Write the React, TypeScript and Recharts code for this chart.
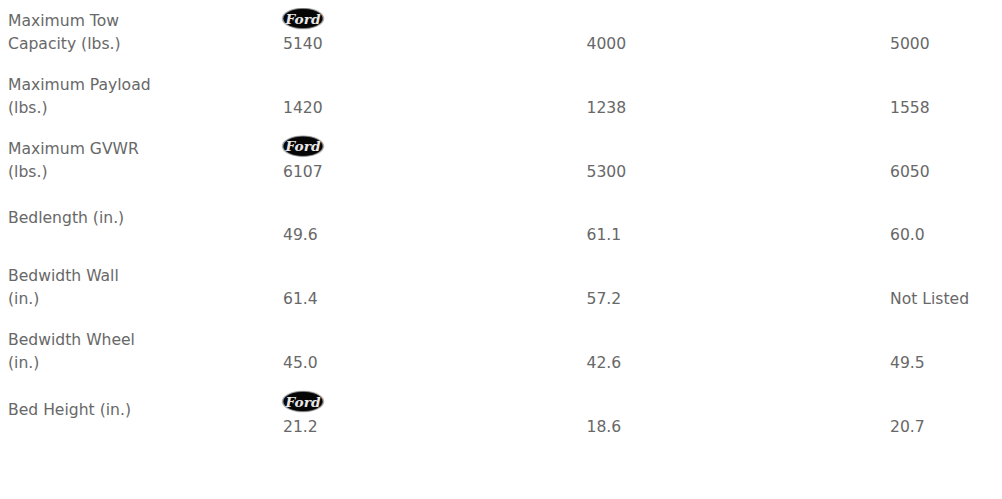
import React from 'react';
import { ScatterChart, Scatter, XAxis, YAxis } from 'recharts';

const rowLabels = [
    ['Maximum Tow', 'Capacity (lbs.)'],
    ['Maximum Payload', '(lbs.)'],
    ['Maximum GVWR', '(lbs.)'],
    ['Bedlength (in.)'],
    ['Bedwidth Wall', '(in.)'],
    ['Bedwidth Wheel', '(in.)'],
    ['Bed Height (in.)'],
];
const fordValues = ['5140', '1420', '6107', '49.6', '61.4', '45.0', '21.2'];
const rivalAValues = ['4000', '1238', '5300', '61.1', '57.2', '42.6', '18.6'];
const rivalBValues = ['5000', '1558', '6050', '60.0', 'Not Listed', '49.5', '20.7'];
const fordLeads = [true, false, true, false, false, false, true];

const rowTicks = rowLabels.map((_, i) => i);
const toPoints = (values: string[], col: number) =>
    values.map((text, row) => ({ col, row, text, lead: col === 1 && fordLeads[row] }));

const TEXT = '#686868';
const FONT = '"DejaVu Sans", Verdana, sans-serif';
const STRETCH = 1.04;

const FordLogo: React.FC<{ x: number; y: number }> = ({ x, y }) => (
    <g transform={`translate(${x},${y})`}>
        <ellipse cx={0} cy={0} rx={21.5} ry={11} fill="url(#fordRim)" />
        <ellipse cx={0} cy={0} rx={19.5} ry={9.5} fill="#060606" />
        <text x={0} y={1} textAnchor="middle" dominantBaseline="central" fill="#e8e8e8"
            transform="scale(1.1,1)"
            fontFamily='"DejaVu Serif", "Liberation Serif", serif' fontStyle="italic" fontWeight="bold" fontSize={12.5}>
            Ford
        </text>
    </g>
);

const Cell = (props: any) => {
    const { cx, cy, payload } = props;
    return (
        <g>
            {payload.lead && <FordLogo x={cx + 20} y={cy - 25.5} />}
            <text transform={`translate(${cx},${cy}) scale(${STRETCH},1)`} dominantBaseline="central"
                fill={TEXT} fontFamily={FONT} fontSize={15}>
                {payload.text}
            </text>
        </g>
    );
};

const RowLabel = (props: any) => {
    const { y, payload } = props;
    const lines = rowLabels[payload.value];
    const top = lines.length > 1 ? y - 23 : y - 17;
    return (
        <text transform={`translate(0,${top}) scale(${STRETCH},1)`} fill={TEXT} fontFamily={FONT}
            fontSize={15} dominantBaseline="central">
            {lines.map((line, i) => (
                <tspan key={i} x={0} dy={i === 0 ? 0 : 23}>{line}</tspan>
            ))}
        </text>
    );
};

const App: React.FC = () => (
    <ScatterChart width={994} height={491} margin={{ top: 36, right: 112, bottom: 72, left: 0 }}>
        <defs>
            <radialGradient id="fordRim" cx="50%" cy="50%" r="50%">
                <stop offset="80%" stopColor="#111" />
                <stop offset="92%" stopColor="#888" />
                <stop offset="100%" stopColor="#ddd" />
            </radialGradient>
        </defs>
        <XAxis type="number" dataKey="col" domain={[1, 3]} hide />
        <YAxis type="number" dataKey="row" domain={[0, 6]} reversed ticks={rowTicks} width={275}
            axisLine={false} tickLine={false} tick={<RowLabel />} interval={0} />
        <Scatter data={toPoints(fordValues, 1)} shape={<Cell />} isAnimationActive={false} />
        <Scatter data={toPoints(rivalAValues, 2)} shape={<Cell />} isAnimationActive={false} />
        <Scatter data={toPoints(rivalBValues, 3)} shape={<Cell />} isAnimationActive={false} />
    </ScatterChart>
);

export default App;
